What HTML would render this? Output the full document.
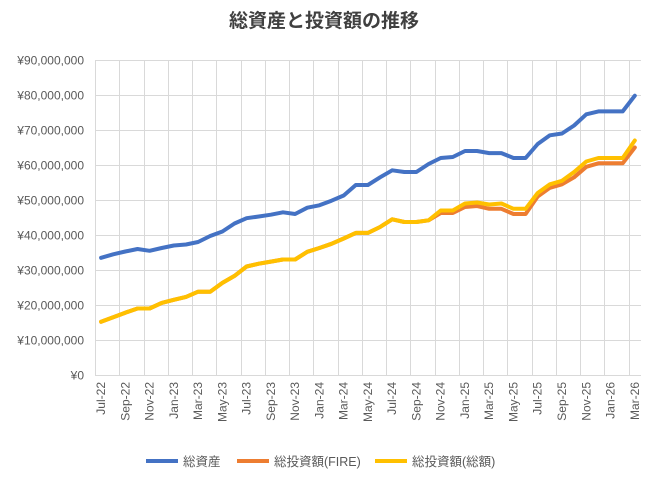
<!DOCTYPE html>
<html><head><meta charset="utf-8"><style>
body{margin:0;background:#fff}
svg{display:block;font-family:"Liberation Sans","Noto Sans CJK JP",sans-serif}
</style></head><body>
<svg width="648" height="483" viewBox="0 0 648 483" xmlns="http://www.w3.org/2000/svg">
<rect width="648" height="483" fill="#fff"/>
<text x="324" y="27" text-anchor="middle" font-size="19" font-weight="bold" fill="#404040">総資産と投資額の推移</text>
<g id="grid" stroke="#d9d9d9" stroke-width="1"></g>
<g id="yl" font-size="12" fill="#595959" text-anchor="end"></g>
<g id="xl" font-size="12" fill="#595959"></g>
<g id="lines" fill="none" stroke-width="4" stroke-linejoin="round" stroke-linecap="round"></g>
<g font-size="12.5" fill="#595959">
<line x1="146" y1="461" x2="178" y2="461" stroke="#4472c4" stroke-width="4"/>
<text x="183" y="466">総資産</text>
<line x1="237" y1="461" x2="269" y2="461" stroke="#ed7d31" stroke-width="4"/>
<text x="274" y="466">総投資額(FIRE)</text>
<line x1="375" y1="461" x2="407" y2="461" stroke="#ffc000" stroke-width="4"/>
<text x="412" y="466">総投資額(総額)</text>
</g>
<script>
var ns="http://www.w3.org/2000/svg";
function el(p,t,a,txt){var e=document.createElementNS(ns,t);for(var k in a)e.setAttribute(k,a[k]);if(txt)e.textContent=txt;document.getElementById(p).appendChild(e);}
var L=95,W=12.13,Y0=375,S=3.5;
function yv(v){return Y0-v*S;}
for(var i=0;i<=9;i++){var y=Y0-i*35+0.5;el("grid","line",{x1:L,x2:641,y1:y,y2:y});
el("yl","text",{x:84,y:y+4},"¥"+(i==0?"0":(i*10)+",000,000"));}
for(var k=0;k<=22;k++){var x=Math.round(L+2*k*W)+0.5;el("grid","line",{x1:x,x2:x,y1:60,y2:375});}
var mon=["Jan","Feb","Mar","Apr","May","Jun","Jul","Aug","Sep","Oct","Nov","Dec"];
for(var i=0;i<45;i+=2){var m=(6+i)%12,yr=22+Math.floor((6+i)/12);var x=L+(i+0.5)*W+4;
el("xl","text",{x:0,y:0,transform:"translate("+x+",382) rotate(-90)","text-anchor":"end"},mon[m]+"-"+yr);}
var blue=[33.5,34.5,35.3,36,35.5,36.3,37,37.3,38,39.7,41,43.3,44.8,45.3,45.8,46.5,46,47.8,48.5,49.8,51.3,54.3,54.3,56.5,58.5,58,58,60.3,62,62.3,64,64,63.4,63.4,62,62,66,68.5,69,71.3,74.5,75.3,75.3,75.3,79.8];
var yel=[15.2,16.5,17.8,19,19,20.6,21.5,22.3,23.8,23.8,26.3,28.3,31,31.8,32.4,33,33,35.2,36.3,37.5,39,40.6,40.6,42.3,44.5,43.7,43.7,44.2,47,47,49,49.3,48.7,49,47.5,47.5,52,54.5,55.5,58,61,62,62,62,67];
var ora=yel.slice(0,28).concat([46.3,46.3,48,48.3,47.5,47.5,46,46,51,53.5,54.5,56.5,59.5,60.5,60.5,60.5,65]);
function pts(a){return a.map(function(v,i){return (L+(i+0.5)*W).toFixed(1)+","+yv(v).toFixed(1)}).join(" ");}
el("lines","polyline",{points:pts(blue),stroke:"#4472c4"});
el("lines","polyline",{points:pts(ora),stroke:"#ed7d31"});
el("lines","polyline",{points:pts(yel),stroke:"#ffc000"});
</script>
</svg>
</body></html>
